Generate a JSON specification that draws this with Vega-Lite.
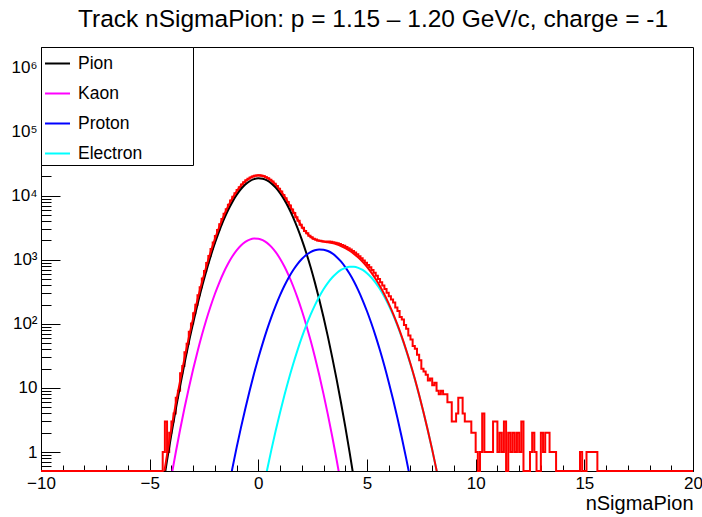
{
  "$schema": "https://vega.github.io/schema/vega-lite/v6.json",
  "width": 652,
  "height": 424,
  "autosize": {"type": "none"},
  "padding": {"left": 41, "top": 47, "right": 9, "bottom": 46},
  "background": "white",
  "config": {
    "font": "Liberation Sans",
    "view": {"stroke": "black", "strokeWidth": 1},
    "axis": {"domainColor": "black", "tickColor": "black", "labelColor": "black", "titleColor": "black", "grid": false, "labelFont": "Liberation Sans", "titleFont": "Liberation Sans", "titleFontWeight": "normal", "domainWidth": 1, "tickWidth": 1}
  },
  "title": {"text": "Track nSigmaPion: p = 1.15 – 1.20 GeV/c, charge = -1", "font": "Liberation Sans", "fontSize": 24.5, "fontWeight": "normal", "anchor": "middle", "frame": "group", "baseline": "alphabetic", "offset": -5, "dx": 6, "color": "black"},
  "datasets": {
    "hist": [
      {"x": -10, "count": 0}, {"x": -4.4, "count": 1}, {"x": -4.3, "count": 3}, {"x": -4.2, "count": 1}, {"x": -4.1, "count": 2}, {"x": -4.0, "count": 3}, {"x": -3.9, "count": 4}, {"x": -3.8, "count": 7}, {"x": -3.7, "count": 9}, {"x": -3.6, "count": 17}, {"x": -3.5, "count": 22}, {"x": -3.4, "count": 36}, {"x": -3.3, "count": 49}, {"x": -3.2, "count": 75}, {"x": -3.1, "count": 101}, {"x": -3.0, "count": 146}, {"x": -2.9, "count": 199}, {"x": -2.8, "count": 280}, {"x": -2.7, "count": 371}, {"x": -2.6, "count": 509}, {"x": -2.5, "count": 664}, {"x": -2.4, "count": 887}, {"x": -2.3, "count": 1139}, {"x": -2.2, "count": 1472}, {"x": -2.1, "count": 1855}, {"x": -2.0, "count": 2347}, {"x": -1.9, "count": 2898}, {"x": -1.8, "count": 3572}, {"x": -1.7, "count": 4318}, {"x": -1.6, "count": 5196}, {"x": -1.5, "count": 6140}, {"x": -1.4, "count": 7225}, {"x": -1.3, "count": 8360}, {"x": -1.2, "count": 9630}, {"x": -1.1, "count": 10890}, {"x": -1.0, "count": 12240}, {"x": -0.9, "count": 13530}, {"x": -0.8, "count": 14880}, {"x": -0.7, "count": 16090}, {"x": -0.6, "count": 17290}, {"x": -0.5, "count": 18250}, {"x": -0.4, "count": 19210}, {"x": -0.3, "count": 19850}, {"x": -0.2, "count": 20400}, {"x": -0.1, "count": 20580}, {"x": 0.0, "count": 20690}, {"x": 0.1, "count": 20430}, {"x": 0.2, "count": 20080}, {"x": 0.3, "count": 19420}, {"x": 0.4, "count": 18650}, {"x": 0.5, "count": 17630}, {"x": 0.6, "count": 16580}, {"x": 0.7, "count": 15320}, {"x": 0.8, "count": 14120}, {"x": 0.9, "count": 12760}, {"x": 1.0, "count": 11540}, {"x": 1.1, "count": 10250}, {"x": 1.2, "count": 9130}, {"x": 1.3, "count": 7980}, {"x": 1.4, "count": 7040}, {"x": 1.5, "count": 6070}, {"x": 1.6, "count": 5330}, {"x": 1.7, "count": 4590}, {"x": 1.8, "count": 4050}, {"x": 1.9, "count": 3510}, {"x": 2.0, "count": 3150}, {"x": 2.1, "count": 2795}, {"x": 2.2, "count": 2580}, {"x": 2.3, "count": 2365}, {"x": 2.4, "count": 2245}, {"x": 2.5, "count": 2120}, {"x": 2.6, "count": 2060}, {"x": 2.7, "count": 1990}, {"x": 2.8, "count": 1970}, {"x": 2.9, "count": 1935}, {"x": 3.0, "count": 1920}, {"x": 3.1, "count": 1930}, {"x": 3.2, "count": 1920}, {"x": 3.3, "count": 1900}, {"x": 3.4, "count": 1880}, {"x": 3.5, "count": 1840}, {"x": 3.6, "count": 1800}, {"x": 3.7, "count": 1760}, {"x": 3.8, "count": 1700}, {"x": 3.9, "count": 1650}, {"x": 4.0, "count": 1580}, {"x": 4.1, "count": 1510}, {"x": 4.2, "count": 1440}, {"x": 4.3, "count": 1365}, {"x": 4.4, "count": 1290}, {"x": 4.5, "count": 1215}, {"x": 4.6, "count": 1130}, {"x": 4.7, "count": 1055}, {"x": 4.8, "count": 975}, {"x": 4.9, "count": 900}, {"x": 5.0, "count": 830}, {"x": 5.1, "count": 760}, {"x": 5.2, "count": 690}, {"x": 5.3, "count": 625}, {"x": 5.4, "count": 560}, {"x": 5.5, "count": 500}, {"x": 5.6, "count": 445}, {"x": 5.7, "count": 395}, {"x": 5.8, "count": 350}, {"x": 5.9, "count": 305}, {"x": 6.0, "count": 270}, {"x": 6.1, "count": 240}, {"x": 6.2, "count": 215}, {"x": 6.3, "count": 180}, {"x": 6.4, "count": 158}, {"x": 6.5, "count": 128}, {"x": 6.6, "count": 117}, {"x": 6.7, "count": 96}, {"x": 6.8, "count": 84}, {"x": 6.9, "count": 66}, {"x": 7.0, "count": 57}, {"x": 7.1, "count": 45}, {"x": 7.2, "count": 41}, {"x": 7.3, "count": 33}, {"x": 7.4, "count": 27}, {"x": 7.5, "count": 20}, {"x": 7.6, "count": 18}, {"x": 7.7, "count": 16}, {"x": 7.8, "count": 13}, {"x": 7.9, "count": 14}, {"x": 8.0, "count": 11}, {"x": 8.1, "count": 12}, {"x": 8.2, "count": 9}, {"x": 8.3, "count": 8}, {"x": 8.4, "count": 9}, {"x": 8.5, "count": 8}, {"x": 8.6, "count": 8}, {"x": 8.7, "count": 6}, {"x": 8.8, "count": 6}, {"x": 8.9, "count": 3}, {"x": 9.0, "count": 3}, {"x": 9.1, "count": 4}, {"x": 9.2, "count": 7}, {"x": 9.3, "count": 7}, {"x": 9.4, "count": 4}, {"x": 9.5, "count": 3}, {"x": 9.6, "count": 3}, {"x": 9.7, "count": 3}, {"x": 9.8, "count": 2}, {"x": 9.9, "count": 2}, {"x": 10.0, "count": 1}, {"x": 10.1, "count": 0}, {"x": 10.2, "count": 1}, {"x": 10.3, "count": 4}, {"x": 10.4, "count": 1}, {"x": 10.5, "count": 1}, {"x": 10.6, "count": 1}, {"x": 10.7, "count": 1}, {"x": 10.8, "count": 3}, {"x": 10.9, "count": 3}, {"x": 11.0, "count": 1}, {"x": 11.1, "count": 2}, {"x": 11.2, "count": 1}, {"x": 11.3, "count": 3}, {"x": 11.4, "count": 0}, {"x": 11.5, "count": 2}, {"x": 11.6, "count": 1}, {"x": 11.7, "count": 2}, {"x": 11.8, "count": 1}, {"x": 11.9, "count": 2}, {"x": 12.0, "count": 1}, {"x": 12.1, "count": 3}, {"x": 12.2, "count": 0}, {"x": 12.5, "count": 1}, {"x": 12.6, "count": 2}, {"x": 12.7, "count": 1}, {"x": 12.8, "count": 0}, {"x": 13.0, "count": 2}, {"x": 13.1, "count": 1}, {"x": 13.2, "count": 2}, {"x": 13.3, "count": 2}, {"x": 13.4, "count": 1}, {"x": 13.5, "count": 1}, {"x": 13.6, "count": 1}, {"x": 13.7, "count": 0}, {"x": 14.8, "count": 1}, {"x": 14.9, "count": 0}, {"x": 15.1, "count": 1}, {"x": 15.6, "count": 0}, {"x": 20, "count": 0}
    ],
    "components": [
      {"x": -4.4, "y": 0.278, "series": "Pion"}, {"x": -4.2, "y": 0.741, "series": "Pion"}, {"x": -4.0, "y": 1.90, "series": "Pion"}, {"x": -3.8, "y": 4.62, "series": "Pion"}, {"x": -3.6, "y": 10.7, "series": "Pion"}, {"x": -3.4, "y": 23.8, "series": "Pion"}, {"x": -3.2, "y": 51.0, "series": "Pion"}, {"x": -3.0, "y": 102.6, "series": "Pion"}, {"x": -2.8, "y": 200.5, "series": "Pion"}, {"x": -2.6, "y": 371, "series": "Pion"}, {"x": -2.4, "y": 658, "series": "Pion"}, {"x": -2.2, "y": 1115, "series": "Pion"}, {"x": -2.0, "y": 1806, "series": "Pion"}, {"x": -1.8, "y": 2796, "series": "Pion"}, {"x": -1.6, "y": 4133, "series": "Pion"}, {"x": -1.4, "y": 5846, "series": "Pion"}, {"x": -1.2, "y": 7902, "series": "Pion"}, {"x": -1.0, "y": 10208, "series": "Pion"}, {"x": -0.8, "y": 12595, "series": "Pion"}, {"x": -0.6, "y": 14855, "series": "Pion"}, {"x": -0.4, "y": 16750, "series": "Pion"}, {"x": -0.2, "y": 18050, "series": "Pion"}, {"x": 0.0, "y": 18590, "series": "Pion"}, {"x": 0.2, "y": 18298, "series": "Pion"}, {"x": 0.4, "y": 17213, "series": "Pion"}, {"x": 0.6, "y": 15475, "series": "Pion"}, {"x": 0.8, "y": 13291, "series": "Pion"}, {"x": 1.0, "y": 10870, "series": "Pion"}, {"x": 1.2, "y": 8531, "series": "Pion"}, {"x": 1.4, "y": 6403, "series": "Pion"}, {"x": 1.6, "y": 4590, "series": "Pion"}, {"x": 1.8, "y": 3144, "series": "Pion"}, {"x": 2.0, "y": 2059, "series": "Pion"}, {"x": 2.2, "y": 1295, "series": "Pion"}, {"x": 2.4, "y": 775, "series": "Pion"}, {"x": 2.6, "y": 443, "series": "Pion"}, {"x": 2.8, "y": 242, "series": "Pion"}, {"x": 3.0, "y": 126.3, "series": "Pion"}, {"x": 3.2, "y": 63.1, "series": "Pion"}, {"x": 3.4, "y": 30.0, "series": "Pion"}, {"x": 3.6, "y": 13.7, "series": "Pion"}, {"x": 3.8, "y": 5.98, "series": "Pion"}, {"x": 4.0, "y": 2.49, "series": "Pion"}, {"x": 4.2, "y": 0.99, "series": "Pion"}, {"x": 4.4, "y": 0.375, "series": "Pion"}, {"x": 4.6, "y": 0.136, "series": "Pion"},
      {"x": -4.4, "y": 0.065, "series": "Kaon"}, {"x": -4.2, "y": 0.168, "series": "Kaon"}, {"x": -4.0, "y": 0.416, "series": "Kaon"}, {"x": -3.8, "y": 0.985, "series": "Kaon"}, {"x": -3.6, "y": 2.23, "series": "Kaon"}, {"x": -3.4, "y": 4.81, "series": "Kaon"}, {"x": -3.2, "y": 9.90, "series": "Kaon"}, {"x": -3.0, "y": 19.5, "series": "Kaon"}, {"x": -2.8, "y": 36.7, "series": "Kaon"}, {"x": -2.6, "y": 66.1, "series": "Kaon"}, {"x": -2.4, "y": 113.5, "series": "Kaon"}, {"x": -2.2, "y": 186, "series": "Kaon"}, {"x": -2.0, "y": 292, "series": "Kaon"}, {"x": -1.8, "y": 437, "series": "Kaon"}, {"x": -1.6, "y": 626, "series": "Kaon"}, {"x": -1.4, "y": 856, "series": "Kaon"}, {"x": -1.2, "y": 1119, "series": "Kaon"}, {"x": -1.0, "y": 1396, "series": "Kaon"}, {"x": -0.8, "y": 1664, "series": "Kaon"}, {"x": -0.6, "y": 1895, "series": "Kaon"}, {"x": -0.4, "y": 2062, "series": "Kaon"}, {"x": -0.2, "y": 2144, "series": "Kaon"}, {"x": 0.0, "y": 2129, "series": "Kaon"}, {"x": 0.2, "y": 2020, "series": "Kaon"}, {"x": 0.4, "y": 1831, "series": "Kaon"}, {"x": 0.6, "y": 1586, "series": "Kaon"}, {"x": 0.8, "y": 1312, "series": "Kaon"}, {"x": 1.0, "y": 1037, "series": "Kaon"}, {"x": 1.2, "y": 783, "series": "Kaon"}, {"x": 1.4, "y": 565, "series": "Kaon"}, {"x": 1.6, "y": 389, "series": "Kaon"}, {"x": 1.8, "y": 256, "series": "Kaon"}, {"x": 2.0, "y": 161, "series": "Kaon"}, {"x": 2.2, "y": 97.0, "series": "Kaon"}, {"x": 2.4, "y": 55.7, "series": "Kaon"}, {"x": 2.6, "y": 30.6, "series": "Kaon"}, {"x": 2.8, "y": 16.0, "series": "Kaon"}, {"x": 3.0, "y": 8.00, "series": "Kaon"}, {"x": 3.2, "y": 3.83, "series": "Kaon"}, {"x": 3.4, "y": 1.75, "series": "Kaon"}, {"x": 3.6, "y": 0.765, "series": "Kaon"}, {"x": 3.8, "y": 0.319, "series": "Kaon"}, {"x": 4.0, "y": 0.127, "series": "Kaon"},
      {"x": -1.4, "y": 0.246, "series": "Proton"}, {"x": -1.2, "y": 0.547, "series": "Proton"}, {"x": -1.0, "y": 1.17, "series": "Proton"}, {"x": -0.8, "y": 2.40, "series": "Proton"}, {"x": -0.6, "y": 4.75, "series": "Proton"}, {"x": -0.4, "y": 9.05, "series": "Proton"}, {"x": -0.2, "y": 16.6, "series": "Proton"}, {"x": 0.0, "y": 29.3, "series": "Proton"}, {"x": 0.2, "y": 49.6, "series": "Proton"}, {"x": 0.4, "y": 81.0, "series": "Proton"}, {"x": 0.6, "y": 127, "series": "Proton"}, {"x": 0.8, "y": 192, "series": "Proton"}, {"x": 1.0, "y": 280, "series": "Proton"}, {"x": 1.2, "y": 392, "series": "Proton"}, {"x": 1.4, "y": 528, "series": "Proton"}, {"x": 1.6, "y": 684, "series": "Proton"}, {"x": 1.8, "y": 853, "series": "Proton"}, {"x": 2.0, "y": 1024, "series": "Proton"}, {"x": 2.2, "y": 1183, "series": "Proton"}, {"x": 2.4, "y": 1315, "series": "Proton"}, {"x": 2.6, "y": 1407, "series": "Proton"}, {"x": 2.8, "y": 1448, "series": "Proton"}, {"x": 3.0, "y": 1434, "series": "Proton"}, {"x": 3.2, "y": 1367, "series": "Proton"}, {"x": 3.4, "y": 1254, "series": "Proton"}, {"x": 3.6, "y": 1106, "series": "Proton"}, {"x": 3.8, "y": 940, "series": "Proton"}, {"x": 4.0, "y": 768, "series": "Proton"}, {"x": 4.2, "y": 604, "series": "Proton"}, {"x": 4.4, "y": 458, "series": "Proton"}, {"x": 4.6, "y": 333, "series": "Proton"}, {"x": 4.8, "y": 233, "series": "Proton"}, {"x": 5.0, "y": 157, "series": "Proton"}, {"x": 5.2, "y": 102, "series": "Proton"}, {"x": 5.4, "y": 63.8, "series": "Proton"}, {"x": 5.6, "y": 38.3, "series": "Proton"}, {"x": 5.8, "y": 22.2, "series": "Proton"}, {"x": 6.0, "y": 12.3, "series": "Proton"}, {"x": 6.2, "y": 6.59, "series": "Proton"}, {"x": 6.4, "y": 3.40, "series": "Proton"}, {"x": 6.6, "y": 1.68, "series": "Proton"}, {"x": 6.8, "y": 0.803, "series": "Proton"}, {"x": 7.0, "y": 0.369, "series": "Proton"}, {"x": 7.2, "y": 0.163, "series": "Proton"},
      {"x": 0.2, "y": 0.242, "series": "Electron"}, {"x": 0.4, "y": 0.52, "series": "Electron"}, {"x": 0.6, "y": 1.08, "series": "Electron"}, {"x": 0.8, "y": 2.16, "series": "Electron"}, {"x": 1.0, "y": 4.15, "series": "Electron"}, {"x": 1.2, "y": 7.68, "series": "Electron"}, {"x": 1.4, "y": 13.7, "series": "Electron"}, {"x": 1.6, "y": 23.4, "series": "Electron"}, {"x": 1.8, "y": 38.6, "series": "Electron"}, {"x": 2.0, "y": 61.3, "series": "Electron"}, {"x": 2.2, "y": 93.5, "series": "Electron"}, {"x": 2.4, "y": 137.4, "series": "Electron"}, {"x": 2.6, "y": 194, "series": "Electron"}, {"x": 2.8, "y": 264, "series": "Electron"}, {"x": 3.0, "y": 346, "series": "Electron"}, {"x": 3.2, "y": 436, "series": "Electron"}, {"x": 3.4, "y": 528, "series": "Electron"}, {"x": 3.6, "y": 616, "series": "Electron"}, {"x": 3.8, "y": 692, "series": "Electron"}, {"x": 4.0, "y": 747, "series": "Electron"}, {"x": 4.2, "y": 776, "series": "Electron"}, {"x": 4.4, "y": 776, "series": "Electron"}, {"x": 4.6, "y": 747, "series": "Electron"}, {"x": 4.8, "y": 692, "series": "Electron"}, {"x": 5.0, "y": 616, "series": "Electron"}, {"x": 5.2, "y": 528, "series": "Electron"}, {"x": 5.4, "y": 436, "series": "Electron"}, {"x": 5.6, "y": 346, "series": "Electron"}, {"x": 5.8, "y": 264, "series": "Electron"}, {"x": 6.0, "y": 194, "series": "Electron"}, {"x": 6.2, "y": 137.4, "series": "Electron"}, {"x": 6.4, "y": 93.5, "series": "Electron"}, {"x": 6.6, "y": 61.3, "series": "Electron"}, {"x": 6.8, "y": 38.6, "series": "Electron"}, {"x": 7.0, "y": 23.4, "series": "Electron"}, {"x": 7.2, "y": 13.7, "series": "Electron"}, {"x": 7.4, "y": 7.68, "series": "Electron"}, {"x": 7.6, "y": 4.15, "series": "Electron"}, {"x": 7.8, "y": 2.16, "series": "Electron"}, {"x": 8.0, "y": 1.08, "series": "Electron"}, {"x": 8.2, "y": 0.52, "series": "Electron"}, {"x": 8.4, "y": 0.242, "series": "Electron"}
    ],
    "fit": [
      {"x": -4.4, "y": 0.343}, {"x": -4.2, "y": 0.909}, {"x": -4.0, "y": 2.32}, {"x": -3.8, "y": 5.61}, {"x": -3.6, "y": 12.9}, {"x": -3.4, "y": 28.6}, {"x": -3.2, "y": 60.9}, {"x": -3.0, "y": 122.1}, {"x": -2.8, "y": 237}, {"x": -2.6, "y": 437}, {"x": -2.4, "y": 772}, {"x": -2.2, "y": 1301}, {"x": -2.0, "y": 2098}, {"x": -1.8, "y": 3233}, {"x": -1.6, "y": 4759}, {"x": -1.4, "y": 6702}, {"x": -1.2, "y": 9022}, {"x": -1.0, "y": 11605}, {"x": -0.8, "y": 14261}, {"x": -0.6, "y": 16755}, {"x": -0.4, "y": 18821}, {"x": -0.2, "y": 20211}, {"x": 0.0, "y": 20748}, {"x": 0.2, "y": 20368}, {"x": 0.4, "y": 19126}, {"x": 0.6, "y": 17189}, {"x": 0.8, "y": 14797}, {"x": 1.0, "y": 12191}, {"x": 1.2, "y": 9714}, {"x": 1.4, "y": 7510}, {"x": 1.6, "y": 5686}, {"x": 1.8, "y": 4292}, {"x": 2.0, "y": 3305}, {"x": 2.2, "y": 2669}, {"x": 2.4, "y": 2283}, {"x": 2.6, "y": 2075}, {"x": 2.8, "y": 1970}, {"x": 3.0, "y": 1914}, {"x": 3.2, "y": 1870}, {"x": 3.4, "y": 1814}, {"x": 3.6, "y": 1736}, {"x": 3.8, "y": 1638}, {"x": 4.0, "y": 1518}, {"x": 4.2, "y": 1381}, {"x": 4.4, "y": 1234}, {"x": 4.6, "y": 1080}, {"x": 4.8, "y": 925}, {"x": 5.0, "y": 773}, {"x": 5.2, "y": 630}, {"x": 5.4, "y": 500}, {"x": 5.6, "y": 384}, {"x": 5.8, "y": 286}, {"x": 6.0, "y": 206}, {"x": 6.2, "y": 144}, {"x": 6.4, "y": 96.9}, {"x": 6.6, "y": 63.0}, {"x": 6.8, "y": 39.4}, {"x": 7.0, "y": 23.8}, {"x": 7.2, "y": 13.9}, {"x": 7.4, "y": 7.75}, {"x": 7.6, "y": 4.18}, {"x": 7.8, "y": 2.17}, {"x": 8.0, "y": 1.09}, {"x": 8.2, "y": 0.52}, {"x": 8.4, "y": 0.243}
    ]
  },
  "resolve": {"scale": {"y": "independent"}, "axis": {"x": "independent", "y": "independent"}},
  "layer": [
    {
      "data": {"name": "hist"},
      "mark": {"type": "line", "interpolate": "step-after", "color": "#ff0000", "strokeWidth": 2, "clip": false},
      "encoding": {
        "x": {"field": "x", "type": "quantitative", "scale": {"domain": [-10, 20], "nice": false, "zero": false}, "axis": null},
        "y": {"field": "count", "type": "quantitative", "scale": {"type": "log", "domain": [0.506, 2080000], "nice": false, "clamp": true}, "axis": null}
      }
    },
    {
      "data": {"name": "components"},
      "mark": {"type": "line", "strokeWidth": 2, "clip": true, "interpolate": "monotone"},
      "encoding": {
        "x": {"field": "x", "type": "quantitative", "scale": {"domain": [-10, 20], "nice": false, "zero": false},
          "axis": {"orient": "bottom", "values": [-10, -5, 0, 5, 10, 15, 20], "format": "d", "tickSize": -12, "labelPadding": 16, "labelFontSize": 17, "labelFlush": false, "labelOverlap": false, "title": "nSigmaPion", "titleFontSize": 20, "titleAnchor": "end", "titleAlign": "right", "titleBaseline": "alphabetic", "titleX": 652, "titleY": 38}},
        "y": {"field": "y", "type": "quantitative", "scale": {"type": "log", "domain": [0.506, 2080000], "nice": false},
          "axis": {"orient": "left", "values": [1, 10, 100, 1000, 10000, 100000, 1000000], "tickSize": -19, "labelPadding": 23, "labelFontSize": 17, "labelBaseline": "middle", "labelOverlap": false, "labelFlush": false, "title": null,
            "labelExpr": "datum.value == 1 ? '1' : datum.value == 10 ? '10' : datum.value == 100 ? '10²' : datum.value == 1000 ? '10³' : datum.value == 10000 ? '10⁴' : datum.value == 100000 ? '10⁵' : '10⁶'"}},
        "color": {"field": "series", "type": "nominal",
          "scale": {"domain": ["Pion", "Kaon", "Proton", "Electron"], "range": ["#000000", "#ff00ff", "#0000ff", "#00ffff"]},
          "legend": {"orient": "top-left", "offset": 0, "title": null, "strokeColor": "black", "fillColor": "white", "padding": 3, "symbolType": "stroke", "symbolStrokeWidth": 2, "symbolSize": 625, "labelFontSize": 17.5, "labelFont": "Liberation Sans", "labelColor": "black", "rowPadding": 8, "labelOffset": 7, "labelExpr": "datum.label + '\u00a0\u00a0\u00a0\u00a0\u00a0\u00a0\u00a0\u2800'"}}
      }
    },
    {
      "data": {"name": "fit"},
      "mark": {"type": "line", "strokeWidth": 2, "clip": true, "color": "#ff0000", "interpolate": "monotone"},
      "encoding": {
        "x": {"field": "x", "type": "quantitative", "scale": {"domain": [-10, 20], "nice": false, "zero": false},
          "axis": {"orient": "bottom", "values": [-9, -8, -7, -6, -4, -3, -2, -1, 1, 2, 3, 4, 6, 7, 8, 9, 11, 12, 13, 14, 16, 17, 18, 19], "tickSize": -6, "labels": false, "domain": false, "title": null}},
        "y": {"field": "y", "type": "quantitative", "scale": {"type": "log", "domain": [0.506, 2080000], "nice": false},
          "axis": {"orient": "left", "values": [0.6, 0.7, 0.8, 0.9, 2, 3, 4, 5, 6, 7, 8, 9, 20, 30, 40, 50, 60, 70, 80, 90, 200, 300, 400, 500, 600, 700, 800, 900, 2000, 3000, 4000, 5000, 6000, 7000, 8000, 9000, 20000, 30000, 40000, 50000, 60000, 70000, 80000, 90000, 200000, 300000, 400000, 500000, 600000, 700000, 800000, 900000, 2000000], "tickSize": -10, "labels": false, "domain": false, "title": null}}
      }
    }
  ]
}
